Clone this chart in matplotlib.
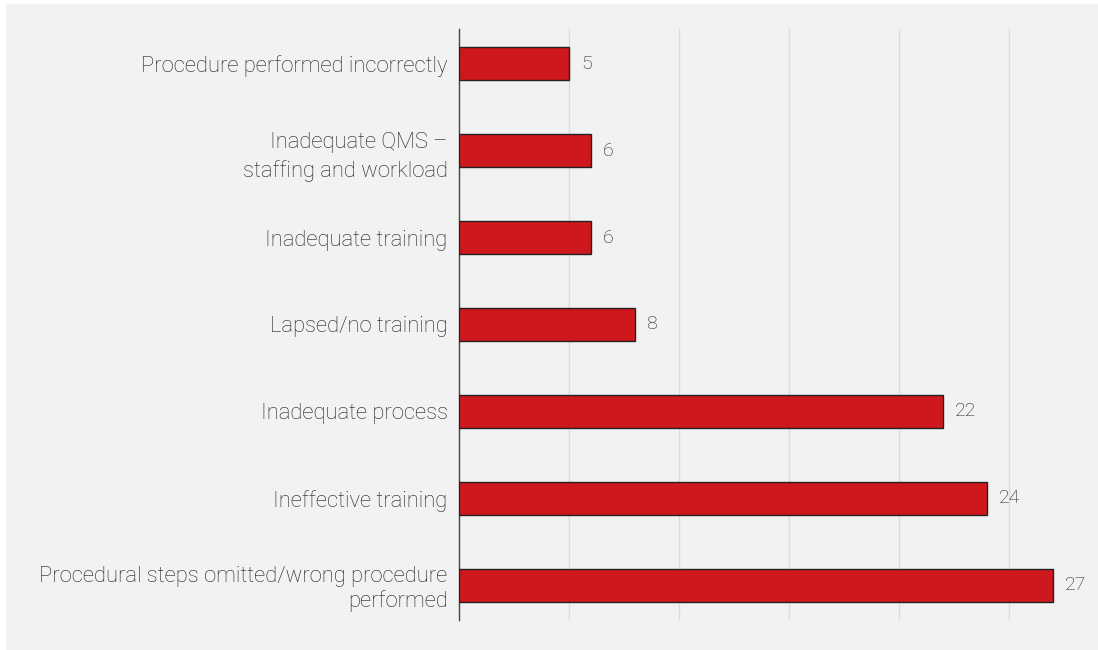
import matplotlib.pyplot as plt
from matplotlib.patches import Rectangle

categories = [
    "Procedure performed incorrectly",
    "Inadequate QMS –\nstaffing and workload",
    "Inadequate training",
    "Lapsed/no training",
    "Inadequate process",
    "Ineffective training",
    "Procedural steps omitted/wrong procedure\nperformed",
]
counts = [5, 6, 6, 8, 22, 24, 27]
# line spacing of the wrapped category labels
label_spacing = [1.2, 1.46, 1.2, 1.2, 1.2, 1.2, 1.17]

bg = "#f2f2f2"
bar_color = "#cf181d"
text_color = "#1e1e1e"

plt.rcParams["font.family"] = ["Roboto", "DejaVu Sans"]

fig = plt.figure(figsize=(10.98, 6.5), dpi=100, facecolor="white")
# grey panel behind the chart
fig.patches.append(Rectangle((6 / 1098, 0), 1 - 6 / 1098, 1 - 4 / 650,
                             transform=fig.transFigure, facecolor=bg,
                             edgecolor="none", zorder=-1))

ax = fig.add_axes([0.4178, 0.0462, 0.571, 0.9092])
ax.set_facecolor(bg)

y = list(range(len(categories)))
bars = ax.barh(y, counts, height=0.38, color=bar_color, edgecolor="#222222",
               linewidth=1.0, zorder=3)

for b, v in zip(bars, counts):
    ax.text(b.get_width() + 0.55, b.get_y() + b.get_height() / 2, str(v),
            va="center", ha="left", fontsize=14, color=text_color,
            fontweight="light")

ax.set_yticks(y)
ax.set_yticklabels(categories, fontsize=15.8, color=text_color,
                   fontweight="light", ha="right")
for lbl, ls in zip(ax.get_yticklabels(), label_spacing):
    lbl.set_linespacing(ls)
ax.tick_params(axis="y", length=0, pad=8)
ax.tick_params(axis="x", length=0, labelbottom=False)

ax.set_xlim(0, 28.5)
ax.set_ylim(6.4, -0.4)
ax.set_xticks([5, 10, 15, 20, 25])
ax.grid(axis="x", color="#dcdcdc", linewidth=1, zorder=0)

for side in ["top", "right", "bottom"]:
    ax.spines[side].set_visible(False)
ax.spines["left"].set_color("#444444")
ax.spines["left"].set_linewidth(1)

fig.savefig("out.png", dpi=100, facecolor=fig.get_facecolor())
